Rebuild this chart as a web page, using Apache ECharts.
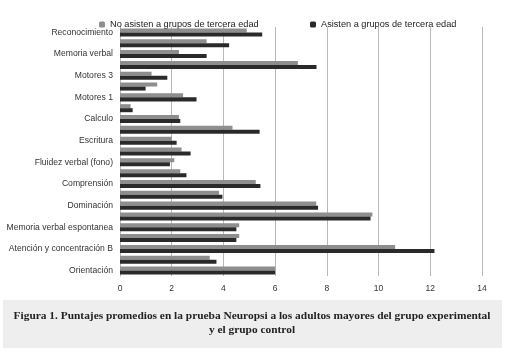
<!DOCTYPE html>
<html>
<head>
<meta charset="utf-8">
<script src="https://cdn.jsdelivr.net/npm/echarts@6/dist/echarts.min.js"></script>
<style>html,body{margin:0;padding:0;background:#fff}#c{width:524px;height:362px}</style>
</head>
<body>
<div id="c"></div>
<script>
var categories = [
  'Orientación', 'Atención y concentración A', 'Atención y concentración B',
  'Atención y concentración C', 'Memoria verbal espontanea', 'Proceso visoespacial',
  'Dominación', 'Repetición', 'Comprensión', 'Fluidez verbal (semántica)',
  'Fluidez verbal (fono)', 'Lectura', 'Escritura', 'Semejanzas', 'Calculo',
  'Secuenciación', 'Motores 1', 'Motores 2', 'Motores 3', 'Memoria visoespacial',
  'Memoria verbal', 'Memoria por claves', 'Reconocimiento'
];
var seriesNames = ['No asisten a grupos de tercera edad', 'Asisten a grupos de tercera edad'];
var noAsisten = [6.0, 3.47, 10.64, 4.61, 4.61, 9.76, 7.59, 3.83, 5.25, 2.33, 2.1, 2.38, 2.0, 4.35, 2.28, 0.41, 2.44, 1.44, 1.22, 6.88, 2.28, 3.35, 4.9];
var asisten   = [6.0, 3.73, 12.16, 4.5, 4.5, 9.69, 7.66, 3.96, 5.43, 2.57, 1.93, 2.73, 2.19, 5.4, 2.33, 0.49, 2.96, 0.99, 1.83, 7.6, 3.35, 4.22, 5.5];
var xTicks = [0, 2, 4, 6, 8, 10, 12, 14];
var captionLines = [
  'Figura 1. Puntajes promedios en la prueba Neuropsi a los adultos mayores del grupo experimental',
  'y el grupo control'
];

var chart = echarts.init(document.getElementById('c'), null, {renderer: 'canvas'});
var font = 'Liberation Sans';
chart.setOption({
  animation: false,
  backgroundColor: '#fff',
  textStyle: {fontFamily: font},
  legend: [
    {data: [seriesNames[0]], left: 94, top: 15, itemWidth: 6, itemHeight: 6, itemGap: 4,
     textStyle: {fontSize: 9.2, color: '#222', fontFamily: font}},
    {data: [seriesNames[1]], left: 305, top: 15, itemWidth: 6, itemHeight: 6, itemGap: 4,
     textStyle: {fontSize: 9.2, color: '#222', fontFamily: font}}
  ],
  grid: {left: 120, right: 42, top: 27, bottom: 86, containLabel: false},
  xAxis: {
    type: 'value', min: xTicks[0], max: xTicks[xTicks.length - 1], interval: 2,
    axisLine: {show: false}, axisTick: {show: false},
    splitLine: {lineStyle: {color: '#b8b8b8', width: 1}},
    axisLabel: {fontSize: 8.5, color: '#333', margin: 8, fontFamily: font}
  },
  yAxis: {
    type: 'category', data: categories,
    axisLine: {show: true, lineStyle: {color: '#b8b8b8'}},
    axisTick: {show: false},
    axisLabel: {interval: 1, fontSize: 8.6, color: '#333', margin: 7, fontFamily: font}
  },
  series: [
    {name: seriesNames[0], type: 'bar', data: noAsisten, itemStyle: {color: '#8e8e8e'},
     barGap: '0%', barCategoryGap: '26%'},
    {name: seriesNames[1], type: 'bar', data: asisten, itemStyle: {color: '#2a2a2a'},
     barGap: '0%', barCategoryGap: '26%'}
  ],
  graphic: [
    {type: 'rect', left: 3, top: 300, shape: {width: 499, height: 48}, style: {fill: '#eeeeee'}, z: 0},
    {type: 'text', x: 252, y: 309, z: 1, style: {text: captionLines.join('\n'), font: 'bold 11.4px "Liberation Serif"', fill: '#222', textAlign: 'center', lineHeight: 14}}
  ]
});
</script>
</body>
</html>
